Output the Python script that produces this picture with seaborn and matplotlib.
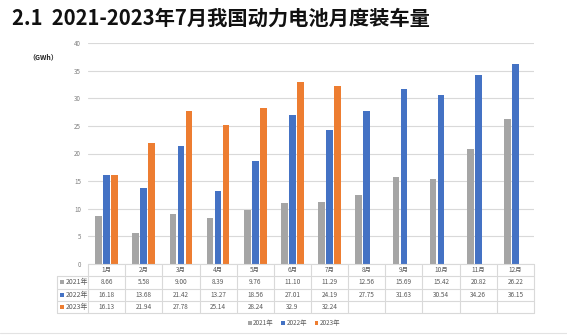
import matplotlib
matplotlib.use("Agg")
import matplotlib.pyplot as plt
import seaborn as sns
import pandas as pd

months = ["1月", "2月", "3月", "4月", "5月", "6月", "7月", "8月", "9月", "10月", "11月", "12月"]
series_names = ["2021年", "2022年", "2023年"]
labels_2021 = ["8.66", "5.58", "9.00", "8.39", "9.76", "11.10", "11.29", "12.56", "15.69", "15.42", "20.82", "26.22"]
labels_2022 = ["16.18", "13.68", "21.42", "13.27", "18.56", "27.01", "24.19", "27.75", "31.63", "30.54", "34.26", "36.15"]
labels_2023 = ["16.13", "21.94", "27.78", "25.14", "28.24", "32.9", "32.24"]
colors = ["#A5A5A5", "#4472C4", "#ED7D31"]

series_labels = [labels_2021, labels_2022, labels_2023]

rows = []
for name, labs in zip(series_names, series_labels):
    for m, s in zip(months, labs):
        rows.append({"月份": m, "年份": name, "装车量": float(s)})
df = pd.DataFrame(rows)

sns.set_theme(style="white")
plt.rcParams["font.family"] = ["Noto Sans CJK SC", "DejaVu Sans"]

W, H = 567, 335
fig = plt.figure(figsize=(W / 100, H / 100), dpi=100)

left, right, top, bottom = 88, 534, 43, 264
ax = fig.add_axes([left / W, (H - bottom) / H, (right - left) / W, (bottom - top) / H])

sns.barplot(data=df, x="月份", y="装车量", hue="年份", order=months,
            hue_order=series_names, palette=dict(zip(series_names, colors)),
            width=0.65, gap=0.17, ax=ax, saturation=1, linewidth=0)

ax.set_xlim(-0.5, len(months) - 0.5)
ax.set_ylim(0, 40)
ax.set_yticks(range(0, 41, 5))
ax.tick_params(axis="y", labelsize=4.5, labelcolor="#7f7f7f", length=0, pad=5)
ax.set_xticks([])
ax.set_xlabel("")
ax.set_ylabel("")
ax.grid(axis="y", color="#d9d9d9", linewidth=0.8)
ax.set_axisbelow(True)
for sp in ax.spines.values():
    sp.set_visible(False)
handles, leg_labels = ax.get_legend_handles_labels()
ax.get_legend().remove()

# data table under the bars
t_top, t_bottom = 264, 313
tax = fig.add_axes([left / W, (H - t_bottom) / H, (right - left) / W, (t_bottom - t_top) / H])
tax.set_xlim(-0.5, len(months) - 0.5)
tax.set_ylim(4, 0)
tax.axis("off")
col_w = (right - left) / len(months)
label_left = -0.5 - (left - 57) / col_w
line_kw = dict(color="#d9d9d9", linewidth=0.8, clip_on=False)
tax.plot([-0.5, len(months) - 0.5], [0, 0], **line_kw)
for r in range(1, 5):
    tax.plot([label_left, len(months) - 0.5], [r, r], **line_kw)
for i in range(len(months) + 1):
    tax.plot([i - 0.5, i - 0.5], [0, 4], **line_kw)
tax.plot([label_left, label_left], [1, 4], **line_kw)

txt_kw = dict(ha="center", va="center", fontsize=4.6, color="#595959", clip_on=False)
for i, m in enumerate(months):
    tax.text(i, 0.5, m, **txt_kw)
for r, (name, labs, c) in enumerate(zip(series_names, series_labels, colors), start=1):
    for i, s in enumerate(labs):
        tax.text(i, r + 0.5, s, **txt_kw)
    tax.scatter([label_left + 0.14], [r + 0.5], marker="s", s=7, color=c, clip_on=False, linewidths=0)
    tax.text(label_left + 0.24, r + 0.5, name, ha="left", va="center", fontsize=5,
             color="#595959", clip_on=False)

fig.legend(handles, leg_labels, loc="center", bbox_to_anchor=(294 / W, 1 - 323 / H), ncol=3,
           frameon=False, fontsize=4.6, handlelength=0.6, handleheight=0.6,
           handletextpad=0.2, columnspacing=1.2, labelcolor="#595959")

fig.text(12 / W, 1 - 18 / H, "2.1  2021-2023年7月我国动力电池月度装车量", ha="left", va="center",
         fontsize=14.6, fontweight="black", color="#111111")
fig.text(28 / W, 1 - 57 / H, "（GWh）", ha="left", va="center", fontsize=5,
         fontweight="bold", color="#222222")

fig.add_artist(plt.Line2D([0, 1], [1 - 333 / H, 1 - 333 / H], color="#e3e3e3", linewidth=0.8))

fig.savefig("out.png", dpi=100)
